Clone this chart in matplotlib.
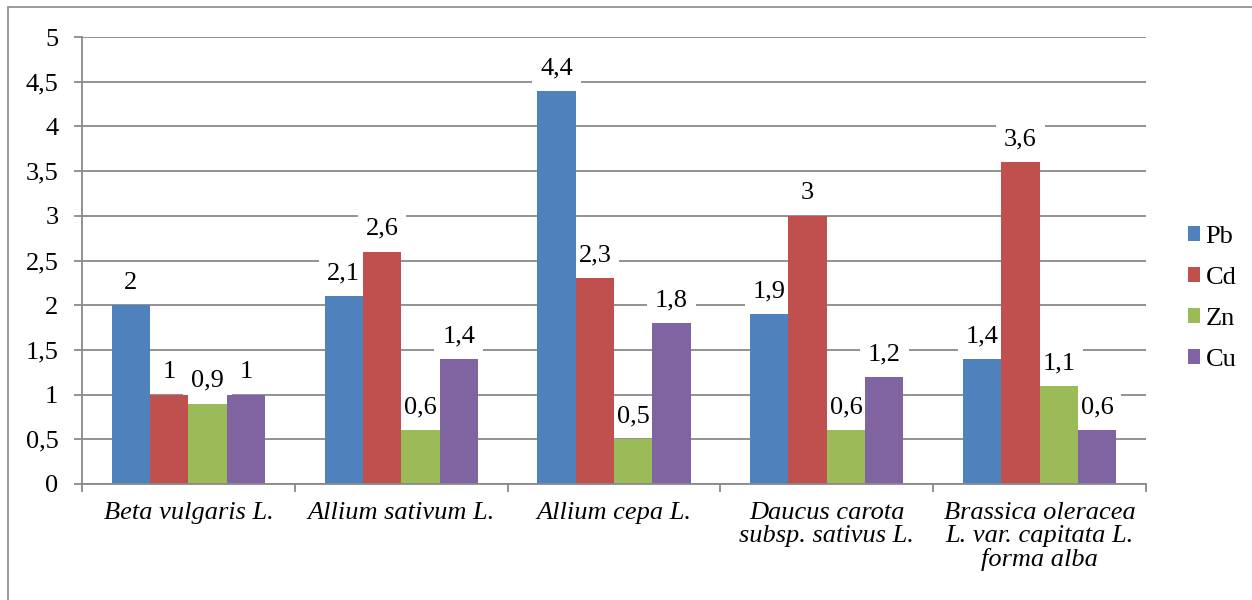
import numpy as np
import matplotlib.pyplot as plt
from matplotlib.patches import Rectangle
from matplotlib.ticker import FuncFormatter, MultipleLocator

serif = 'Liberation Serif'
plt.rcParams['font.family'] = serif

species = ['Beta vulgaris L.', 'Allium sativum L.', 'Allium cepa L.',
           'Daucus carota\nsubsp. sativus L.',
           'Brassica oleracea\nL. var. capitata L.\nforma alba']
metals = ['Pb', 'Cd', 'Zn', 'Cu']
pb = [2.0, 2.1, 4.4, 1.9, 1.4]
cd = [1.0, 2.6, 2.3, 3.0, 3.6]
zn = [0.9, 0.6, 0.5, 0.6, 1.1]
cu = [1.0, 1.4, 1.8, 1.2, 0.6]
colors = ['#4F81BD', '#C0504D', '#9BBB59', '#8064A2']

fs = 19
grey = '#898989'

fig = plt.figure(figsize=(12.52, 6), dpi=100)
# outer chart frame (cropped screenshot)
fig.patches.append(Rectangle((8 / 1252, -0.1), 1.2, (600 - 7) / 600 + 0.1,
                             transform=fig.transFigure, fill=False,
                             edgecolor=grey, linewidth=1.2))

ax = fig.add_axes([82 / 1252, 116 / 600, (1146 - 82) / 1252, (484 - 37) / 600])

x = np.arange(len(species))
w = 0.18
for i, (vals, name) in enumerate(zip([pb, cd, zn, cu], metals)):
    pos = x - 1.5 * w + i * w
    ax.bar(pos, vals, width=w, color=colors[i], label=name, zorder=2)
    for px, v in zip(pos, vals):
        # label box sits under the bars but over the gridlines
        ax.annotate(f'{v:g}'.replace('.', ','), (px, v), xytext=(0, 12),
                    textcoords='offset points', ha='center', va='baseline',
                    fontsize=fs, family=serif, zorder=1.5,
                    bbox=dict(boxstyle='square,pad=0.3', fc='white', ec='none'))

ax.set_xlim(-0.5, len(species) - 0.5)
ax.set_ylim(0, 5)
ax.yaxis.set_major_locator(MultipleLocator(0.5))
ax.yaxis.set_major_formatter(FuncFormatter(lambda v, p: f'{v:g}'.replace('.', ',')))
ax.grid(axis='y', color=grey, linewidth=1.3, zorder=0)
ax.set_axisbelow(True)

ax.set_xticks(np.arange(len(species) + 1) - 0.5)
ax.set_xticklabels([])
ax.set_xticks(x, minor=True)
ax.set_xticklabels(species, minor=True, fontsize=fs, style='italic',
                   family=serif, linespacing=1.05, va='top')
ax.tick_params(axis='x', which='minor', length=0, pad=13)
ax.tick_params(axis='x', which='major', length=6, color=grey, width=1.3)
ax.tick_params(axis='y', labelsize=fs, length=6, color=grey, width=1.3, pad=11)
for lbl in ax.get_yticklabels():
    lbl.set_fontfamily(serif)

for s in ['top', 'right']:
    ax.spines[s].set_visible(False)
for s in ['left', 'bottom']:
    ax.spines[s].set_color(grey)
    ax.spines[s].set_linewidth(1.3)

fig.legend(loc='upper left', bbox_to_anchor=(1188 / 1252, 1 - 226 / 600),
           frameon=False, prop={'family': serif, 'size': fs},
           handlelength=0.46, handleheight=0.46, handletextpad=0.2,
           labelspacing=0.72, borderpad=0, borderaxespad=0)

plt.savefig('out.png', dpi=100)
